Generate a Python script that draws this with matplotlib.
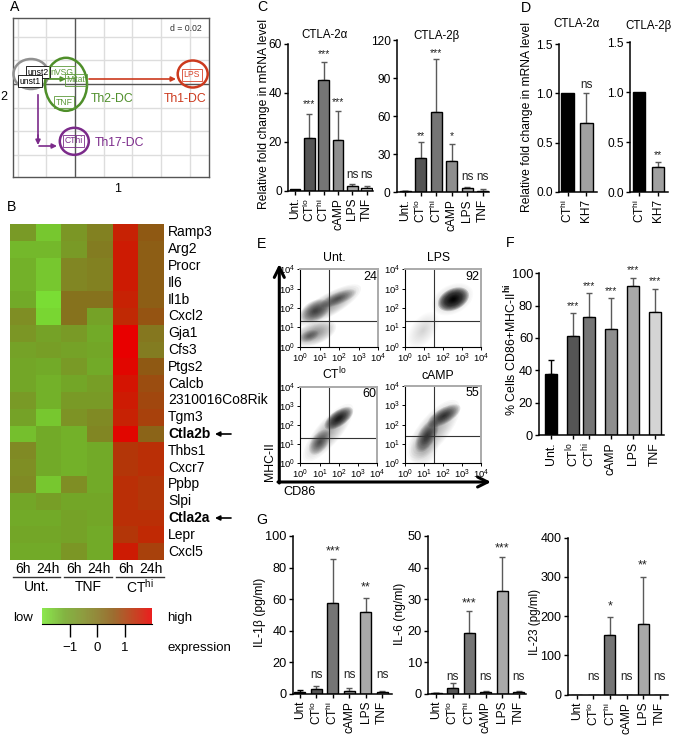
import numpy as np
import matplotlib
matplotlib.use("Agg")
import matplotlib.pyplot as plt
from matplotlib.colors import LinearSegmentedColormap
from matplotlib.patches import Ellipse

plt.rcParams['font.family'] = ['Liberation Sans', 'DejaVu Sans']
plt.rcParams['mathtext.fontset'] = 'custom'
plt.rcParams['mathtext.rm'] = 'Liberation Sans'
plt.rcParams['mathtext.it'] = 'Liberation Sans:italic'
plt.rcParams['mathtext.bf'] = 'Liberation Sans:bold'

W, H = 673, 735

# ---------- data ----------
pca_labels = ['unst2', 'unst1', 'nVSG', 'Mitat', 'TNF', 'CThi', 'LPS']
pca_dim1 = [-0.0256, -0.0314, -0.009, 0.0007, -0.0077, -0.0007, 0.0815]
pca_dim2 = [0.0099, 0.0025, 0.0101, 0.0034, -0.0152, -0.0481, 0.0076]
pca_colors = ['black', 'black', '#5d9a3a', '#5d9a3a', '#5d9a3a', '#7b2d8b', '#d8432b']

genes = ['Ramp3', 'Arg2', 'Procr', 'Il6', 'Il1b', 'Cxcl2', 'Gja1', 'Cfs3', 'Ptgs2', 'Calcb',
         '2310016Co8Rik', 'Tgm3', 'Ctla2b', 'Thbs1', 'Cxcr7', 'Ppbp', 'Slpi', 'Ctla2a', 'Lepr', 'Cxcl5']
heat = [
    [-0.8, -1.6, -0.7, -0.2, 1.5, 0.6],
    [-1.4, -1.4, -0.8, -0.1, 1.6, 0.5],
    [-1.3, -1.6, -0.3, -0.2, 1.6, 0.5],
    [-1.3, -1.6, -0.3, -0.2, 1.6, 0.5],
    [-1.2, -1.9, 0.1, 0.1, 1.5, 0.5],
    [-0.5, -1.8, 0.1, -1.0, 1.4, 0.7],
    [-0.7, -1.0, -0.8, -1.2, 2.0, 0.0],
    [-1.0, -0.9, -1.0, -1.1, 2.0, -0.1],
    [-1.1, -1.2, -0.8, -1.2, 1.9, 0.6],
    [-1.1, -1.3, -1.1, -0.9, 1.7, 0.8],
    [-0.8, -1.3, -0.8, -0.8, 1.6, 0.9],
    [-1.0, -1.6, -0.6, -0.4, 1.5, 1.0],
    [-1.5, -1.2, -1.3, -0.3, 1.9, 0.4],
    [-0.4, -1.2, -1.3, -1.2, 1.2, 1.3],
    [-0.5, -1.2, -1.3, -1.2, 1.2, 1.3],
    [-0.4, -1.6, -0.5, -1.2, 1.3, 1.2],
    [-1.1, -0.9, -1.1, -1.1, 1.3, 1.2],
    [-1.2, -1.2, -1.0, -1.1, 1.3, 1.3],
    [-1.1, -1.1, -1.0, -1.2, 1.2, 1.4],
    [-1.2, -1.2, -0.7, -1.2, 1.6, 1.0],
]

cats = ['Unt.', r'$\mathregular{CT^{lo}}$', r'$\mathregular{CT^{hi}}$', 'cAMP', 'LPS', 'TNF']
cats_g = ['Unt', r'$\mathregular{CT^{lo}}$', r'$\mathregular{CT^{hi}}$', 'cAMP', 'LPS', 'TNF']
cats_d = [r'$\mathregular{CT^{hi}}$', 'KH7']
grays = ['#000000', '#555555', '#757575', '#8e8e8e', '#a9a9a9', '#d4d4d4']
grays_d = ['#000000', '#a0a0a0']

c_a_val = [0.8, 21.5, 45.3, 20.8, 1.8, 1.2]
c_a_top = [0.8, 31.5, 52.7, 32.7, 2.6, 1.8]
c_a_sig = ['', '***', '***', '***', 'ns', 'ns']
c_a_sigy = [0, 35.5, 55.8, 36, 6.4, 6.4]

c_b_val = [0.7, 27, 63.5, 24.5, 3.2, 1.2]
c_b_top = [1.0, 39.5, 105, 38.5, 4.2, 3.0]
c_b_sig = ['', '**', '***', '*', 'ns', 'ns']
c_b_sigy = [0, 44.4, 109.7, 44.4, 12.3, 12.3]

d_a_val = [1.0, 0.7]
d_a_top = [1.0, 1.0]
d_a_sig = ['', 'ns']
d_a_sigy = [0, 1.09]

d_b_val = [1.0, 0.25]
d_b_top = [1.0, 0.30]
d_b_sig = ['', '**']
d_b_sigy = [0, 0.373]

f_val = [37.5, 61.2, 73, 65.3, 92, 76]
f_top = [46.5, 75.5, 87.8, 85, 97.3, 90.5]
f_sig = ['', '***', '***', '***', '***', '***']
f_sigy = [0, 79.8, 92.3, 89.2, 102, 95]

g1_val = [1, 2.8, 57.5, 1.5, 51.8, 0.8]
g1_top = [2.6, 4.8, 85.5, 3.6, 60.5, 1.8]
g1_sig = ['', 'ns', '***', 'ns', '**', 'ns']
g1_sigy = [0, 11.9, 90.5, 11.9, 67.2, 11.9]

g2_val = [0.1, 1.8, 19.2, 0.4, 32.6, 0.4]
g2_top = [0.2, 3.4, 26.2, 0.7, 43.5, 0.8]
g2_sig = ['', 'ns', '***', 'ns', '***', 'ns']
g2_sigy = [0, 5.3, 28.7, 5.3, 46.2, 5.3]

g3_val = [0, 0, 152, 0, 180, 0]
g3_top = [0, 0, 198, 0, 300, 0]
g3_sig = ['', 'ns', '*', 'ns', '**', 'ns']
g3_sigy = [0, 45, 224, 45, 329, 45]

flow_pcts = {'Unt.': '24', 'LPS': '92', 'CTlo': '60', 'cAMP': '55'}
# flow populations read as outlines: log x, log y, width, height, angle, strength
flow_pops = {
    'Unt.': [(1.45, 2.15, 3.3, 1.0, 30, 0.45), (0.75, 1.85, 1.4, 0.9, 30, 0.9),
             (1.95, 2.5, 1.7, 0.55, 22, 0.7), (0.75, 0.7, 2.0, 1.0, 22, 0.5),
             (0.45, 0.55, 0.9, 0.5, 20, 0.45)],
    'LPS': [(2.55, 2.45, 1.5, 0.95, 25, 2.2), (2.5, 2.45, 2.0, 1.3, 25, 0.25),
            (0.95, 0.85, 1.9, 1.1, 52, 0.18)],
    'CTlo': [(2.0, 2.35, 1.5, 0.7, 35, 1.6), (1.0, 1.1, 1.3, 0.75, 55, 0.8),
             (1.45, 1.6, 3.3, 1.1, 50, 0.35)],
    'cAMP': [(2.05, 2.45, 1.7, 0.7, 30, 1.2), (1.15, 1.4, 1.6, 0.8, 60, 1.0),
             (1.5, 1.7, 3.4, 1.35, 50, 0.35), (1.0, 0.7, 1.6, 1.2, 60, 0.2)],
}
flow_gates = {'Unt.': (1.49, 1.31), 'LPS': (1.51, 1.31), 'CTlo': (1.5, 1.30), 'cAMP': (1.5, 1.40)}
flow_ticks = [0, 1, 2, 3, 4]

# ---------- figure ----------
fig = plt.figure(figsize=(W / 100, H / 100), dpi=100)


def axes_px(left, right, top, bottom):
    return fig.add_axes([left / W, 1 - bottom / H, (right - left) / W, (bottom - top) / H])


ov = fig.add_axes([0, 0, 1, 1], zorder=10)
ov.set_xlim(0, W)
ov.set_ylim(H, 0)
ov.axis('off')
ov.patch.set_alpha(0)


def t(x, y, s, size=10, ha='center', va='center', **kw):
    ov.text(x, y, s, fontsize=size, ha=ha, va=va, **kw)


def arrow(x0, y0, x1, y1, color='k', lw=1.0, ms=7, style='-|>'):
    ov.annotate('', xy=(x1, y1), xytext=(x0, y0),
                arrowprops=dict(arrowstyle=style, color=color, lw=lw, mutation_scale=ms,
                                shrinkA=0, shrinkB=0))


for letter, x, y in [('A', 15, 7), ('B', 12, 207), ('C', 262, 7), ('D', 526, 8),
                     ('E', 262, 244), ('F', 510, 243), ('G', 262, 520)]:
    t(x, y, letter, size=10.2)

# ---------- A ----------
axG = axes_px(13, 209, 18, 177)
axG.set_xlim(-0.0432, 0.0934)
axG.set_ylim(-0.0785, 0.0557)
axG.set_xticks([])
axG.set_yticks([])
for v in [-0.04, -0.02, 0.02, 0.04, 0.06, 0.08]:
    axG.axvline(v, color='#dddddd', lw=1)
for v in [0.04, 0.02, -0.02, -0.04, -0.06]:
    axG.axhline(v, color='#dddddd', lw=1)
axG.axvline(0, color='#555555', lw=1)
axG.axhline(0, color='#555555', lw=1)
for s in axG.spines.values():
    s.set_color('#555555')
    s.set_linewidth(1)
axA = axes_px(13, 209, 18, 177)
axA.set_zorder(11)
axA.patch.set_alpha(0)
axA.axis('off')
axA.set_xlim(-0.0432, 0.0934)
axA.set_ylim(-0.0785, 0.0557)
for lab, x, y, c in zip(pca_labels, pca_dim1, pca_dim2, pca_colors):
    axA.text(x, y, lab, fontsize=6.2, color=c, ha='center', va='center',
             bbox=dict(fc='none' if c != 'black' else 'white', ec=c, lw=0.6, pad=1.0), zorder=5)
axA.text(0.0775, 0.047, 'd = 0.02', fontsize=6.3, ha='center', va='center', color='#333333')
for cx, cy, w, h, c in [(31, 74, 35, 30, '#909090'), (66, 84.3, 42, 53, '#4f8f2a'),
                        (192.7, 74, 30, 27, '#cc3a1e'), (74.3, 141.3, 29, 27, '#7b2a8a')]:
    ov.add_patch(Ellipse((cx, cy), w, h, fc='none', ec=c, lw=1.8))
arrow(89, 79, 176, 79, '#cc3a1e', 1.2)
arrow(47, 79, 66, 79, '#4f8f2a', 1.2)
ov.plot([38, 38], [95, 140], color='#7b2a8a', lw=1.2)
arrow(38, 135, 38, 145, '#7b2a8a', 1.2)
arrow(39, 146, 57, 146, '#7b2a8a', 1.2)
t(112, 99, 'Th2-DC', size=8.8, color='#4f8f2a')
t(185, 99, 'Th1-DC', size=8.8, color='#cc3a1e')
t(120, 143, 'Th17-DC', size=8.8, color='#7b2a8a')
t(4, 97, '2', size=9)
t(118, 189, '1', size=9)

# ---------- B ----------
cmap = LinearSegmentedColormap.from_list('gmr', [
    (0.0, '#7ce436'), (0.2, '#72aa28'), (0.375, '#7f8f25'), (0.5, '#857820'),
    (0.65, '#8f5a14'), (0.85, '#c02a05'), (1.0, '#e80000')])
axB = axes_px(10, 164, 224, 560)
axB.imshow(heat, cmap=cmap, vmin=-2, vmax=2, aspect='auto', interpolation='nearest')
axB.axis('off')
row_h = (560 - 224) / len(genes)
for i, g in enumerate(genes):
    bold = g.startswith('Ctla')
    t(168, 224 + (i + 0.5) * row_h, g, size=10, ha='left',
      fontweight='bold' if bold else 'normal')
    if bold:
        arrow(231, 224 + (i + 0.5) * row_h, 215, 224 + (i + 0.5) * row_h, 'k', 1.2, 7)
for (l, r), lab in zip([(13, 60), (64, 112), (116, 164)], ['Unt.', 'TNF', r'$\mathregular{CT^{hi}}$']):
    ov.plot([l, r], [577, 577], color='#333333', lw=1)
    t((l + r) / 2, 587, lab, size=10)
    t((l + r) / 2 - 14, 569, '6h', size=10)
    t((l + r) / 2 + 11, 569, '24h', size=10)

axCb = axes_px(42, 152, 608, 624)
axCb.imshow([[i / 99 * 4 - 2 for i in range(100)]], cmap=cmap, vmin=-2, vmax=2, aspect='auto',
            extent=(-2.03, 2.0, 0, 1), alpha=0.88)
axCb.set_yticks([])
axCb.set_xticks([-1, 0, 1])
axCb.set_xticklabels(['\u22121', '0', '1'], fontsize=9.5)
axCb.tick_params(axis='x', length=9, width=1, pad=4)
for k, s in axCb.spines.items():
    s.set_visible(k == 'bottom')
t(13, 618, 'low', size=9.5, ha='left')
t(167, 618, 'high', size=9.5, ha='left')
t(167, 648, 'expression', size=9.5, ha='left')


# ---------- bar panels ----------
def bar_panel(left, right, top, bottom, ymax, yticks, centers, width, vals, tops, colors, labels,
              sig, sigy, ylabel=None, ylabel_x=None, ylabel_y=None, tick_size=8.6, lab_size=8.6,
              ns_size=8.4, star_size=7.5, ylab_size=8.7):
    ax = axes_px(left, right, top, bottom)
    ax.set_xlim(left, right)
    ax.set_ylim(0, ymax)
    ax.bar(centers, vals, width=width, color=colors, edgecolor='black', linewidth=1, zorder=2)
    for x, v, tp, c in zip(centers, vals, tops, colors):
        if tp > v:
            ec = '#000000' if c == '#000000' else '#5a5a5a'
            ax.errorbar([x], [v], yerr=[[0], [tp - v]], ecolor=ec, elinewidth=1, capsize=2.4,
                        capthick=1, fmt='none', zorder=1, clip_on=False)
    for x, s, y in zip(centers, sig, sigy):
        if s:
            ax.text(x, y, s, ha='center', va='center', clip_on=False,
                    fontsize=ns_size if s == 'ns' else star_size, color='#222222')
    ax.set_yticks(yticks)
    ax.set_xticks(centers)
    ax.set_xticklabels(labels, rotation=90, fontsize=lab_size)
    ax.tick_params(axis='y', labelsize=tick_size, length=3, width=1, pad=1.5)
    ax.tick_params(axis='x', length=3, width=1, pad=2)
    ax.patch.set_alpha(0)
    for k in ['top', 'right']:
        ax.spines[k].set_visible(False)
    for k in ['left', 'bottom']:
        ax.spines[k].set_linewidth(1.1)
    if ylabel:
        t(ylabel_x, ylabel_y, ylabel, size=ylab_size, rotation=90)
    return ax


def even(first, step, n=6):
    return [first + i * step for i in range(n)]


ylab = 'Relative fold change in mRNA level'
bar_panel(288.3, 373, 43.7, 190.7, 60, [0, 20, 40, 60], even(295, 14.35), 10.7, c_a_val, c_a_top,
          grays, cats, c_a_sig, c_a_sigy, ylab, 264, 114)
bar_panel(396.7, 489, 40.3, 192.3, 120, [0, 30, 60, 90, 120], even(405, 15.5), 11, c_b_val, c_b_top,
          grays, cats, c_b_sig, c_b_sigy)
t(324, 35, 'CTLA-2\u03b1', size=8.3)
t(436, 36, 'CTLA-2\u03b2', size=8.3)

bar_panel(559, 597, 44.3, 191.7, 1.5, [0, 0.5, 1.0, 1.5], even(567.7, 18.6, 2), 12.7, d_a_val, d_a_top,
          grays_d, cats_d, d_a_sig, d_a_sigy, ylab, 527, 117)
bar_panel(630, 668, 42.3, 192.3, 1.5, [0, 0.5, 1.0, 1.5], even(639, 19, 2), 12.7, d_b_val, d_b_top,
          grays_d, cats_d, d_b_sig, d_b_sigy)
t(577, 24, 'CTLA-2\u03b1', size=8.3)
t(648, 26, 'CTLA-2\u03b2', size=8.3)

f_centers = [551, 573, 589, 611, 633, 655]
bar_panel(539.3, 664, 273.3, 435, 100, [0, 20, 40, 60, 80, 100], f_centers, 11.3, f_val, f_top,
          grays, cats, f_sig, f_sigy, r'% Cells CD86+MHC-II$\mathregular{^{\mathbf{hi}}}$', 511, 350,
          tick_size=9.2, lab_size=8.8, ylab_size=8.9)

bar_panel(292.7, 391.7, 536, 693.7, 100, [0, 20, 40, 60, 80, 100], even(300, 16.4), 11, g1_val, g1_top,
          grays, cats_g, g1_sig, g1_sigy, 'IL-1\u03b2 (pg/ml)', 260, 612, tick_size=9.2, star_size=9)
bar_panel(428.3, 526, 536, 693.7, 50, [0, 10, 20, 30, 40, 50], even(436, 16.55), 11, g2_val, g2_top,
          grays, cats_g, g2_sig, g2_sigy, 'IL-6 (ng/ml)', 400, 614, tick_size=9.2, star_size=9)
bar_panel(567.7, 667.7, 537.7, 694.7, 400, [0, 100, 200, 300, 400], even(576.7, 16.6), 11, g3_val, g3_top,
          grays, cats_g, g3_sig, g3_sigy, 'IL-23 (pg/ml)', 535, 622, tick_size=9.0, star_size=9, ylab_size=8.4)

# ---------- E ----------
for key, title, (l, r, tp, b), (tx, ty) in [
    ('Unt.', 'Unt.', (300.3, 378.3, 269.3, 346.7), (334, 258)),
    ('LPS', 'LPS', (405, 481, 269.3, 346.7), (439, 258)),
    ('CTlo', r'$\mathregular{CT^{lo}}$', (300.3, 377.3, 386.7, 463.3), (334, 374)),
    ('cAMP', 'cAMP', (405, 481, 386, 463), (438, 376)),
]:
    ax = axes_px(l, r, tp, b)
    ax.set_xlim(0, 4)
    ax.set_ylim(0, 4)
    for x, y, w, h, ang, strength in flow_pops[key]:
        # soft blob: nested shrinking ellipses build up a density-like shading
        for s in np.linspace(1.15, 0.12, 14):
            ax.add_patch(Ellipse((x, y), w * s, h * s, angle=ang, fc='#000000', lw=0,
                                 alpha=min(0.9, 0.075 * strength)))
    gx, gy = flow_gates[key]
    ax.axvline(gx, color='#333333', lw=0.8)
    ax.axhline(gy, color='#333333', lw=0.8)
    ax.set_xticks(flow_ticks)
    ax.set_yticks(flow_ticks)
    ax.set_xticklabels([r'$\mathregular{10^{%d}}$' % i for i in flow_ticks], fontsize=6.8)
    ax.set_yticklabels([r'$\mathregular{10^{%d}}$' % i for i in flow_ticks], fontsize=6.8)
    ax.tick_params(length=2, width=0.7, pad=1.5)
    for k in ['top', 'right']:
        ax.spines[k].set_color('#aaaaaa')
        ax.spines[k].set_linewidth(1.4)
    ax.text(3.93, 3.62, flow_pcts[key], fontsize=9, ha='right', va='center')
    t(tx, ty, title, size=8.8)

arrow(279.3, 483, 279.3, 264, 'k', 2.2, 18, '->')
arrow(278, 482, 491, 482, 'k', 2.2, 18, '->')
t(270, 462, 'MHC-II', size=8.8, rotation=90)
t(300, 492, 'CD86', size=9.2)

fig.savefig('out.png', dpi=100)
